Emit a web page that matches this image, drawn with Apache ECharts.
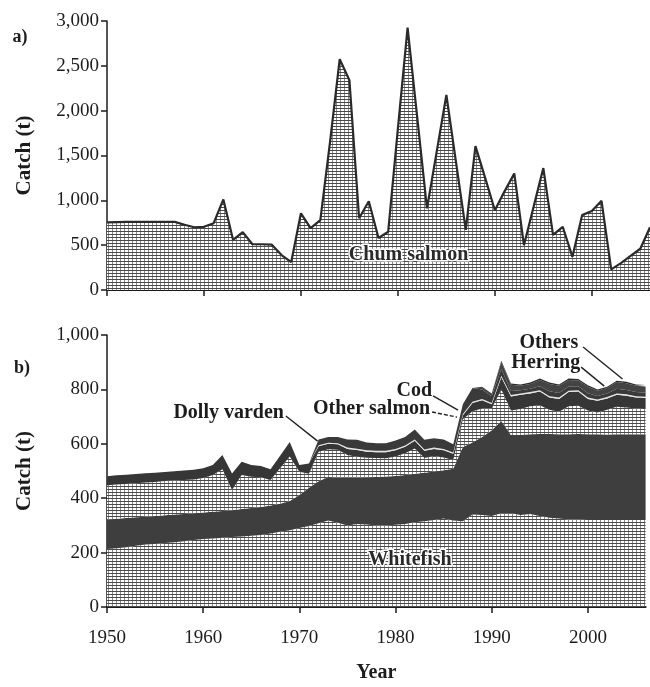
<!DOCTYPE html>
<html><head><meta charset="utf-8">
<script src="https://cdn.jsdelivr.net/npm/echarts@6/dist/echarts.min.js"></script>
<style>html,body{margin:0;padding:0;background:#fff}#c{width:650px;height:687px}</style>
</head><body><div id="c"></div>
<script>
// ---------- DATA ----------
const years = [1950,1951,1952,1953,1954,1955,1956,1957,1958,1959,
               1960,1961,1962,1963,1964,1965,1966,1967,1968,1969,
               1970,1971,1972,1973,1974,1975,1976,1977,1978,1979,
               1980,1981,1982,1983,1984,1985,1986,1987,1988,1989,
               1990,1991,1992,1993,1994,1995,1996,1997,1998,1999,
               2000,2001,2002,2003,2004,2005,2006];
const xTicks = [1950,1960,1970,1980,1990,2000];

// panel a) Chum salmon catch (t)
const chumSalmon = [755,758,760,760,760,760,760,760,728,700,
                    705,745,1010,560,645,510,510,505,390,312,
                    855,690,780,1650,2575,2340,800,990,580,650,
                    1800,2925,1920,910,1540,2175,1420,670,1605,1250,
                    890,1100,1300,500,930,1360,615,705,370,835,
                    880,995,230,300,380,460,700];

// panel b) stacked layers (t), bottom to top
const whitefish = [213,216,220,225,230,232,235,238,242,246,
                   250,252,255,257,259,262,265,270,277,282,
                   290,298,308,318,310,300,305,303,300,300,
                   302,305,312,315,320,325,318,315,340,338,
                   335,345,345,338,342,335,328,325,322,322,
                   320,320,320,320,320,320,320];
const darkLayer = [109,108,107,105,102,103,102,102,100,99,
                   97,98,98,99,101,102,103,103,103,108,
                   122,140,154,160,166,175,171,174,178,180,
                   180,180,178,179,178,178,190,273,265,287,
                   315,339,287,295,293,301,308,310,313,314,
                   315,315,314,315,315,315,315];
const lightLayer = [126,126,125,125,126,125,126,125,125,124,
                    127,135,153,74,125,115,109,94,130,163,
                    85,52,109,102,102,84,76,72,70,67,
                    71,80,93,54,57,47,32,102,115,105,
                    80,116,90,95,103,106,89,83,103,104,
                    87,80,91,101,98,95,93];
const dollyVarden = [33,34,34,34,34,34,33,34,35,36,
                     36,37,53,61,49,43,41,39,46,54,
                     25,38,20,20,20,22,25,22,21,22,
                     23,24,28,26,26,26,23,15,30,30,
                     15,45,52,52,47,50,45,47,52,52,
                     43,43,42,44,44,40,40];
const otherSalmon = [0,0,0,0,0,0,0,0,0,0,
                     0,0,0,0,0,0,0,0,0,0,
                     0,0,4,4,4,5,5,5,5,5,
                     5,5,5,5,5,5,5,5,5,5,
                     5,5,5,5,5,5,5,5,5,5,
                     5,5,5,5,5,5,5];
const cod = [0,0,0,0,0,0,0,0,0,0,
             0,0,0,0,0,0,0,0,0,0,
             0,0,21,21,23,30,33,29,28,28,
             31,31,37,36,34,35,30,35,50,35,
             25,25,15,12,12,15,18,17,16,15,
             16,13,13,17,16,15,15];
const herring = [0,0,0,0,0,0,0,0,0,0,
                 0,0,0,0,0,0,0,0,0,0,
                 0,0,0,0,0,0,0,0,0,0,
                 0,0,0,0,0,0,0,0,0,10,
                 10,25,23,16,18,23,27,26,24,21,
                 24,19,20,25,25,23,23];
const others = [0,0,0,0,0,0,0,0,0,0,
                0,0,0,0,0,0,0,0,0,0,
                0,0,0,0,0,0,0,0,0,0,
                0,0,0,0,0,0,0,0,0,0,
                0,5,5,5,5,5,5,5,5,5,
                5,5,5,5,5,5,5];

// ---------- RENDER ----------
function makePattern(){
  const c = document.createElement('canvas'); c.width = 4; c.height = 3;
  const g = c.getContext('2d');
  g.fillStyle = '#ffffff'; g.fillRect(0,0,4,3);
  g.fillStyle = '#8a8a8a'; g.fillRect(0,0,1,3);
  g.fillStyle = '#4a4a4a'; g.fillRect(0,0,4,1);
  return c;
}
const patCanvas = makePattern();
const pat = () => ({image: patCanvas, repeat: 'repeat'});
const SERIF = '"Liberation Serif", "DejaVu Serif", serif';
const INK = '#1c1c1c';
const commas = v => String(v).replace(/\B(?=(\d{3})+(?!\d))/g, ',');
const isTick = (i, v) => xTicks.indexOf(Number(v)) >= 0;

function layer(name, arr, color){
  return {name, type:'line', xAxisIndex:1, yAxisIndex:1, stack:'b',
    symbol:'none', lineStyle:{width:0, opacity:0},
    areaStyle:{color:color, opacity:1}, data: arr, silent:true};
}
function yAxisCfg(grid, max, interval){
  return {type:'value', gridIndex:grid, min:0, max:max, interval:interval,
    axisLine:{show:true, lineStyle:{color:INK, width:1.5}},
    axisTick:{show:true, length:6, lineStyle:{color:INK, width:1.5}},
    axisLabel:{fontFamily:SERIF, fontSize:19, color:INK, margin:8, formatter:commas},
    splitLine:{show:false},
    name:'Catch (t)', nameLocation:'middle', nameGap:72,
    nameTextStyle:{fontFamily:SERIF, fontSize:21, fontWeight:'bold', color:INK}};
}

const chart = echarts.init(document.getElementById('c'), null, {renderer:'canvas'});
chart.setOption({
  animation:false,
  backgroundColor:'#ffffff',
  grid:[
    {left:107, top:21, width:544.3, height:269},
    {left:107, top:335, width:538.6, height:272}
  ],
  xAxis:[
    {type:'value', gridIndex:0, min:1950, max:2006, interval:10,
     axisLine:{show:true, lineStyle:{color:INK, width:2}},
     axisTick:{show:true, length:6, lineStyle:{color:INK, width:1.5}, customValues:xTicks},
     axisLabel:{show:false}, splitLine:{show:false}},
    {type:'category', gridIndex:1, data:years, boundaryGap:false,
     axisLine:{show:true, lineStyle:{color:INK, width:2}},
     axisTick:{show:true, length:6, interval:isTick, lineStyle:{color:INK, width:1.5}},
     axisLabel:{show:true, interval:isTick, fontFamily:SERIF, fontSize:19, color:INK, margin:22},
     splitLine:{show:false},
     name:'Year', nameLocation:'middle', nameGap:56,
     nameTextStyle:{fontFamily:SERIF, fontSize:20, fontWeight:'bold', color:INK}}
  ],
  yAxis:[yAxisCfg(0,3000,500), yAxisCfg(1,1000,200)],
  series:[
    {name:'Chum salmon', type:'line', xAxisIndex:0, yAxisIndex:0, symbol:'none',
     lineStyle:{color:'#2a2a2a', width:2.2}, areaStyle:{color:pat(), opacity:1},
     data: years.map((y,i)=>[y, chumSalmon[i]]), silent:true},
    layer('Whitefish', whitefish, pat()),
    layer('Unlabelled (dark band)', darkLayer, '#3e3e3e'),
    layer('Unlabelled (light band)', lightLayer, pat()),
    layer('Dolly varden', dollyVarden, '#363636'),
    layer('Other salmon', otherSalmon, '#e4e4e4'),
    layer('Cod', cod, '#3a3a3a'),
    layer('Herring', herring, '#444444'),
    layer('Others', others, '#2c2c2c')
  ]
});

// ---------- ANNOTATIONS (anchored in data space) ----------
function bottomPx(year, val){
  const f = year - years[0], i0 = Math.floor(f);
  const a = chart.convertToPixel({xAxisIndex:1}, i0);
  const b = chart.convertToPixel({xAxisIndex:1}, i0 + 1);
  return [a + (b - a) * (f - i0), chart.convertToPixel({yAxisIndex:1}, val)];
}
function topPx(year, val){ return chart.convertToPixel({gridIndex:0}, [year, val]); }

const bottomNotes = [
  {text:'Dolly varden', at:[1968.4, 713], align:'right', leader:[[1968.6, 702],[1971.9, 610]]},
  {text:'Other salmon', at:[1983.6, 728], align:'right', leader:[[1983.8, 717],[1986.4, 698]], dash:true},
  {text:'Cod',          at:[1983.8, 794], align:'right', leader:[[1983.9, 776],[1986.5, 724]]},
  {text:'Herring',      at:[1999.2, 897], align:'right', leader:[[1999.3, 882],[2001.7, 812]]},
  {text:'Others',       at:[1999.0, 970], align:'right', leader:[[1999.5, 956],[2003.6, 838]]},
  {text:'Whitefish',    at:[1981.5, 173], align:'center', halo:true}
];
const topNotes = [
  {text:'Chum salmon', at:[1981.1, 390], align:'center', halo:true}
];
const g = [];
function addNotes(list, conv){
  list.forEach(n=>{
    const p = conv(n.at[0], n.at[1]);
    g.push({type:'text', x:p[0], y:p[1], z:100, style:{text:n.text, font:'bold 20px '+SERIF,
      fill: n.halo ? '#2a2a2a' : INK, align:n.align, verticalAlign:'middle',
      textAlign:n.align, textVerticalAlign:'middle',
      stroke: n.halo ? '#ffffff' : null, lineWidth: n.halo ? 3 : 0}});
    if(n.leader){
      const a = conv(n.leader[0][0], n.leader[0][1]);
      const b = conv(n.leader[1][0], n.leader[1][1]);
      g.push({type:'line', z:100, shape:{x1:a[0], y1:a[1], x2:b[0], y2:b[1]},
        style:{stroke:'#222', lineWidth:1.4, lineDash: n.dash ? [4,2] : null}});
    }
  });
}
addNotes(bottomNotes, bottomPx);
addNotes(topNotes, topPx);
g.push({type:'text', x:20, y:37, z:100, style:{text:'a)', font:'bold 18px '+SERIF, fill:INK, align:'center', verticalAlign:'middle', textAlign:'center', textVerticalAlign:'middle'}});
g.push({type:'text', x:22, y:368, z:100, style:{text:'b)', font:'bold 18px '+SERIF, fill:INK, align:'center', verticalAlign:'middle', textAlign:'center', textVerticalAlign:'middle'}});
chart.setOption({graphic:g});
</script>
</body></html>
